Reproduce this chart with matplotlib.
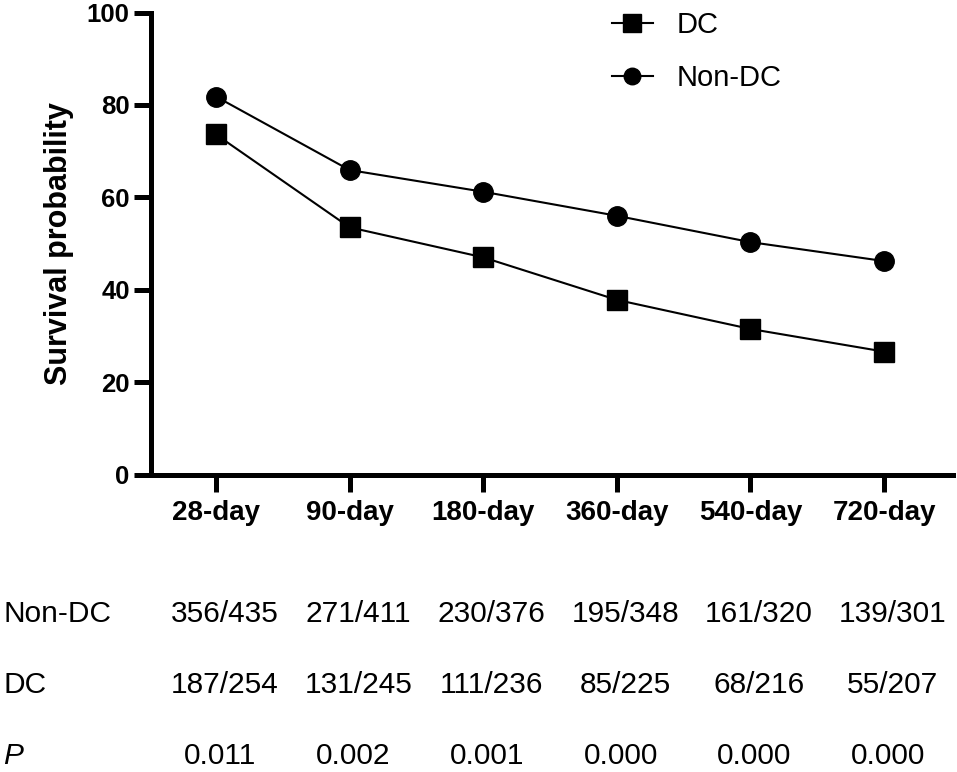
import matplotlib
matplotlib.use("Agg")
import matplotlib.pyplot as plt
import matplotlib.transforms as mtransforms
import numpy as np

plt.rcParams['font.family'] = ['Liberation Sans', 'DejaVu Sans']

# data
time_points = ["28-day", "90-day", "180-day", "360-day", "540-day", "720-day"]
dc_survival = [73.6, 53.5, 47.0, 37.8, 31.5, 26.6]
non_dc_survival = [81.8, 65.9, 61.2, 56.0, 50.3, 46.2]

non_dc_counts = ["356/435", "271/411", "230/376", "195/348", "161/320", "139/301"]
dc_counts = ["187/254", "131/245", "111/236", "85/225", "68/216", "55/207"]
p_values = ["0.011", "0.002", "0.001", "0.000", "0.000", "0.000"]

W, H = 957, 772
fig = plt.figure(figsize=(W / 100, H / 100), dpi=100)
ax = fig.add_axes([150.5 / W, (H - 474.5) / H, (953 - 150.5) / W, (474.5 - 12.5) / H])

x = np.arange(len(time_points))
ax.plot(x, dc_survival, color='black', lw=1.5, marker='s', ms=14.5, label='DC', clip_on=False)
ax.plot(x, non_dc_survival, color='black', lw=1.5, marker='o', ms=14, label='Non-DC', clip_on=False)

ax.set_xlim(-0.49, 5.516)
ax.set_ylim(0, 100)
ax.set_yticks([0, 20, 40, 60, 80, 100])
ax.set_xticks(x, time_points)

for side in ['top', 'right']:
    ax.spines[side].set_visible(False)
for side in ['left', 'bottom']:
    ax.spines[side].set_linewidth(3.6)

ax.tick_params(axis='both', direction='out', length=12, width=3.6, color='black')
ax.tick_params(axis='x', pad=6, labelsize=20)
ax.tick_params(axis='y', pad=3, labelsize=18.5)
for lbl in ax.get_xticklabels() + ax.get_yticklabels():
    lbl.set_fontweight('bold')

ax.set_ylabel('Survival probability', fontsize=22, fontweight='bold')
ax.yaxis.set_label_coords(-0.095, 0.499)

leg = ax.legend(loc='upper left', bbox_to_anchor=(612 / W, 1 - 11 / H), bbox_transform=fig.transFigure,
                frameon=False, fontsize=21, borderpad=0, handlelength=1.4, handletextpad=0.8,
                labelspacing=0.85, markerscale=0.85, borderaxespad=0)

# table below the chart
trans = mtransforms.blended_transform_factory(ax.transData, fig.transFigure)
rows = [("Non-DC", non_dc_counts, 614, 0.065, 'normal'),
        ("DC", dc_counts, 685, 0.065, 'normal'),
        ("P", p_values, 756, 0.03, 'italic')]
for name, vals, ypix, off, style in rows:
    fig.text(3 / W, 1 - ypix / H, name, ha='left', va='center', fontsize=21.5, style=style)
    for i, v in enumerate(vals):
        ax.text(x[i] + off, 1 - ypix / H, v, transform=trans, ha='center', va='center', fontsize=21.5)

fig.savefig('out.png', dpi=100)
